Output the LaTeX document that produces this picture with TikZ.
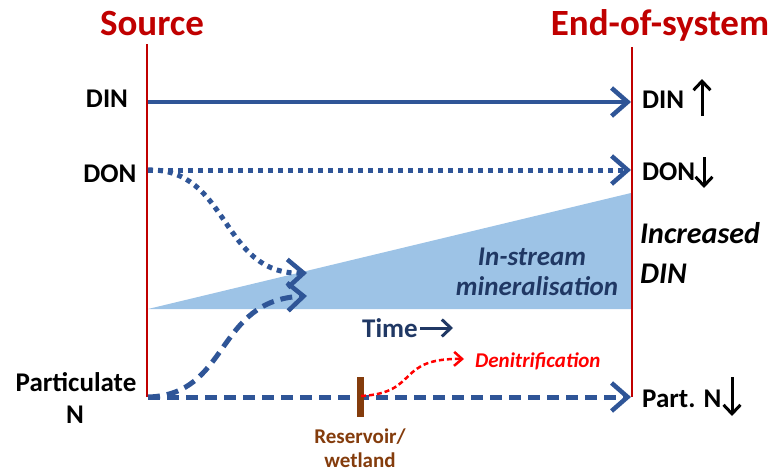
\documentclass[tikz,border=0pt]{standalone}
\usepackage{fontspec}
\setmainfont{Carlito}
\usetikzlibrary{arrows.meta}
\definecolor{flowblue}{HTML}{2F5597}
\definecolor{darkred}{HTML}{C00000}
\definecolor{navytext}{HTML}{203864}
\definecolor{resbrown}{HTML}{843C0C}
\definecolor{trifill}{HTML}{9DC3E6}
\begin{document}
\begin{tikzpicture}[x=1pt,y=-1pt,
  lbl/.style={font=\bfseries\fontsize{27}{29}\selectfont, inner sep=0pt},
  ttl/.style={font=\bfseries\fontsize{37}{40}\selectfont, text=darkred, inner sep=0pt},
  bound/.style={draw=darkred, line width=2pt},
  bighead/.style={-{Straight Barb[length=16pt,width=28pt,line width=4.5pt]}},
  flowsolid/.style={draw=flowblue, line width=4pt, bighead},
  flowdot/.style={draw=flowblue, line width=5pt, dash pattern=on 5pt off 5pt, bighead},
  flowdash/.style={draw=flowblue, line width=5pt, dash pattern=on 12pt off 7pt, bighead},
  denit/.style={draw=red, line width=2.5pt, dash pattern=on 5pt off 3pt, -{Straight Barb[length=8pt,width=14pt,line width=2.5pt]}},
  trend/.style={draw=black, line width=3pt, -{Straight Barb[length=9pt,width=17pt,line width=3pt]}},
  timearr/.style={draw=navytext, line width=3pt, -{Straight Barb[length=9pt,width=17pt,line width=3pt]}}
]
\useasboundingbox (0,0) rectangle (772,471);

% titles
\node[ttl, anchor=base] (src) at (152,35) {Source};
\node[ttl, anchor=base] (eos) at (660,35) {End-of-system};

% mineralisation wedge
\fill[trifill] (148,309) -- (631,193) -- (631,309) -- cycle;

% boundary lines
\coordinate (srcTop) at (147,44);
\coordinate (srcBot) at (147,397);
\coordinate (eosTop) at (632,47);
\coordinate (eosBot) at (632,397);
\draw[bound] (srcTop) -- (srcBot);
\draw[bound] (eosTop) -- (eosBot);

% labels left
\node[lbl, anchor=base] (dinL) at (107,107) {DIN};
\node[lbl, anchor=base] (donL) at (110,182) {DON};
\node[lbl, anchor=base] (partL) at (76,391) {Particulate};
\node[lbl, anchor=base] (partL2) at (75,423) {N};

% labels right
\node[lbl, anchor=base west] (dinR) at (642,108) {DIN};
\node[lbl, anchor=base west] (donR) at (642,180) {DON};
\node[lbl, anchor=base west] (partR) at (642,407) {Part. N};
\node[font=\bfseries\itshape\fontsize{30}{32}\selectfont, anchor=base west, inner sep=0pt] (incr) at (640,243) {Increased};
\node[font=\bfseries\itshape\fontsize{30}{32}\selectfont, anchor=base west, inner sep=0pt] (incr2) at (640,283) {DIN};

% trend arrows
\coordinate (upA) at (702,116); \coordinate (upB) at (702,79);
\coordinate (dnA) at (704,157); \coordinate (dnB) at (704,188);
\coordinate (pdA) at (732,377); \coordinate (pdB) at (732,416);
\draw[trend] (upA) -- (upB);
\draw[trend] (dnA) -- (dnB);
\draw[trend] (pdA) -- (pdB);

% in-stream text
\node[font=\bfseries\itshape\fontsize{27}{29}\selectfont, text=navytext, anchor=base, inner sep=0pt] (ins1) at (532,265) {In-stream};
\node[font=\bfseries\itshape\fontsize{27}{29}\selectfont, text=navytext, anchor=base, inner sep=0pt] (ins2) at (537,295) {mineralisation};

% time
\node[lbl, text=navytext, anchor=base] (time) at (390,337) {Time};
\coordinate (timeEnd) at (453,328);
\draw[timearr] (time.east |- timeEnd) ++(2,0) -- (timeEnd);

% flows
\coordinate (dinS) at (148,102); \coordinate (dinE) at (631,102);
\coordinate (donS) at (148,170); \coordinate (donE) at (631,170);
\coordinate (parS) at (148,397); \coordinate (parE) at (631,397);
\coordinate (donM) at (307,273);
\coordinate (parM) at (307,296);
\draw[flowsolid] (dinS) -- (dinE);
\draw[flowdot] (donS) -- (donE);
\draw[flowdot] (donS) .. controls (230,168) and (220,275) .. (donM);
\draw[flowdash] (parS) .. controls (230,395) and (215,300) .. (parM);
\draw[flowdash] (parS) -- (parE);

% reservoir
\fill[resbrown] (357,377) rectangle (364,417);
\node[font=\bfseries\fontsize{21}{23}\selectfont, text=resbrown, anchor=base, inner sep=0pt] (res1) at (360,443) {Reservoir/};
\node[font=\bfseries\fontsize{21}{23}\selectfont, text=resbrown, anchor=base, inner sep=0pt] (res2) at (360,467) {wetland};

% denitrification
\coordinate (denS) at (361,396);
\node[font=\bfseries\itshape\fontsize{21}{23}\selectfont, text=red, anchor=base west, inner sep=0pt] (den) at (475,367) {Denitrification};
\coordinate (denE) at (464,359);
\draw[denit] (denS) .. controls (420,393) and (395,358) .. (denE);
\end{tikzpicture}
\end{document}
